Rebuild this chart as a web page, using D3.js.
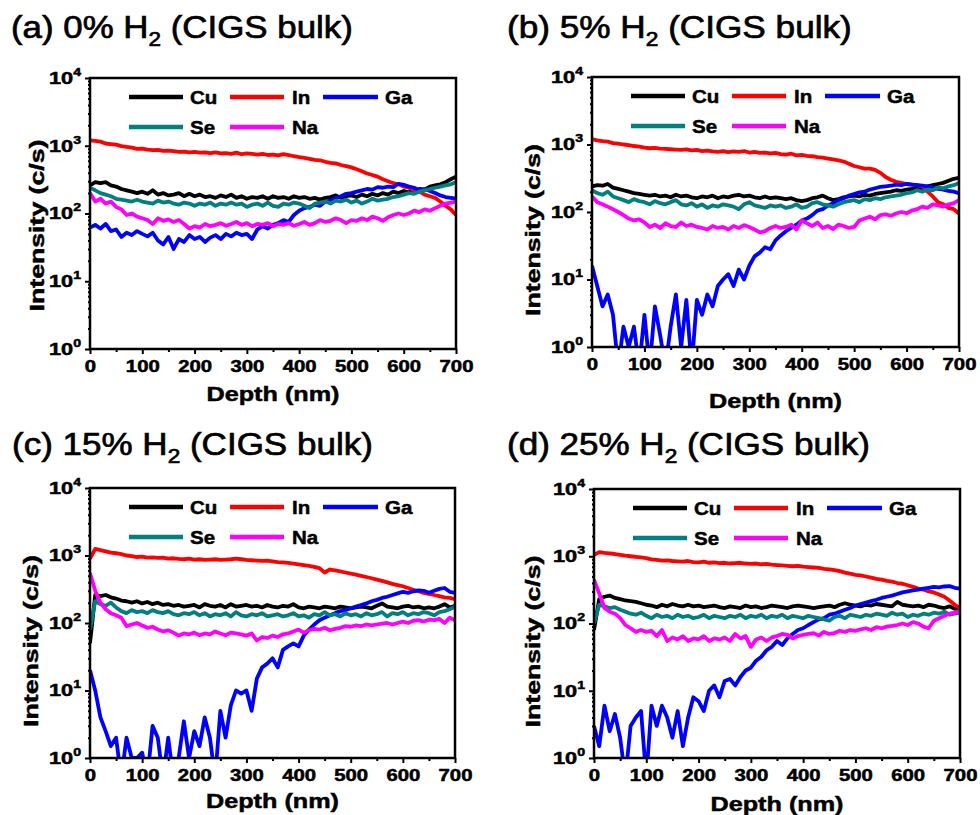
<!DOCTYPE html>
<html>
<head>
<meta charset="UTF-8">
<title>CIGS bulk depth profiles</title>
<style>
  body { margin: 0; background: #fff; }
  svg { display: block; }
  text { font-family: "Liberation Sans", Arial, sans-serif; fill: #000; }
  .heavy { stroke: #000; stroke-width: 0.5px; }
  .title { stroke: #000; stroke-width: 0.7px; }
</style>
</head>
<body>
<svg width="980" height="815"></svg>
<script src="https://d3js.org/d3.v7.min.js"></script>
<script>
// depth grid (nm)
const depth = [0,10,20,30,40,50,60,70,80,90,
  100,110,120,130,140,150,160,170,180,190,
  200,210,220,230,240,250,260,270,280,290,
  300,310,320,330,340,350,360,370,380,390,
  400,410,420,430,440,450,460,470,480,490,
  500,510,520,530,540,550,560,570,580,590,
  600,610,620,630,640,650,660,670,680,690,
  700];

// (a) 0% H2
const cuA = [260,290,280,290,260,250,230,220,210,200,
  210,195,220,190,200,185,190,200,180,195,
  180,190,175,180,170,185,175,190,170,180,
  165,175,170,180,165,180,170,175,165,180,
  170,175,165,170,160,170,175,185,170,180,
  185,175,190,180,195,185,200,190,210,200,
  215,205,220,230,225,250,260,270,290,320,
  350];
const inA = [1200,1180,1150,1080,1060,1040,990,960,940,900,
  910,880,860,870,840,850,830,810,820,800,
  810,790,800,780,800,770,780,760,790,750,
  770,760,740,760,730,740,720,750,730,700,
  680,660,640,620,610,580,560,550,520,500,
  480,450,420,390,370,350,320,300,280,270,
  250,240,220,210,190,180,170,150,130,115,
  95];
const gaA = [62,68,60,70,55,58,45,52,48,55,
  50,46,52,40,35,45,30,42,38,48,
  42,45,38,44,48,42,50,46,52,48,
  50,42,58,65,60,68,72,80,75,95,
  110,120,125,135,130,150,155,170,180,195,
  200,210,220,230,225,245,240,250,245,275,
  265,250,240,220,230,215,200,185,175,170,
  165];
const seA = [240,220,200,190,180,165,160,155,150,160,
  150,145,140,155,145,150,140,135,145,140,
  130,140,135,145,130,140,135,145,135,140,
  125,135,140,130,145,130,125,140,135,145,
  140,130,120,140,145,150,140,155,150,160,
  145,155,140,150,165,155,160,165,175,180,
  190,200,195,210,220,230,240,250,260,270,
  290];
const naA = [200,150,165,140,150,125,115,95,100,90,
  85,80,70,85,78,82,75,80,70,60,
  65,62,70,65,68,72,66,70,75,68,
  72,65,70,68,72,65,70,68,72,66,
  70,75,68,72,80,75,78,85,80,72,
  80,78,85,80,90,85,78,88,95,100,
  95,100,110,105,115,110,120,130,140,145,
  150];

// (b) 5% H2
const cuB = [240,250,245,260,230,220,210,200,190,185,
  180,175,180,170,175,165,180,170,175,165,
  160,170,165,175,160,170,165,175,180,170,
  175,165,160,170,160,165,160,155,160,150,
  145,150,160,165,175,160,150,155,165,170,
  175,170,180,175,185,190,195,200,210,205,
  215,220,230,225,240,250,260,270,290,310,
  320];
const inB = [1200,1150,1120,1100,1050,1030,1000,980,950,930,
  900,880,890,870,860,850,840,830,850,820,
  830,800,810,790,780,800,770,790,780,800,
  760,780,750,760,740,750,720,710,730,690,
  700,680,670,650,640,620,600,580,560,520,
  480,460,440,440,420,380,330,300,280,270,
  260,255,250,240,200,170,140,130,115,110,
  95];
const gaB = [16,8,4,6,3,0.5,2,1,2,0.5,
  3,0.5,4,1.5,0.5,2,6,1,5,0.5,
  5,3,6,4,8,10,12,8,14,10,
  16,22,25,30,28,38,45,52,58,65,
  75,80,90,105,110,125,135,150,160,175,
  185,195,200,215,225,235,240,245,255,250,
  260,255,250,245,240,230,220,215,205,200,
  190];
const seB = [210,190,180,200,170,160,150,140,155,145,
  140,130,145,135,130,140,150,130,125,135,
  120,130,115,125,120,130,125,120,110,130,
  140,125,120,115,125,120,125,115,120,130,
  115,120,135,140,130,125,120,130,140,145,
  150,140,155,150,160,155,165,170,175,180,
  190,195,210,200,215,210,230,225,240,250,
  270];
const naB = [170,140,130,120,110,100,90,80,75,78,
  70,60,65,58,68,62,60,70,62,65,
  60,58,55,62,58,60,55,62,58,64,
  60,55,50,52,58,62,58,60,65,55,
  75,68,62,70,58,62,56,65,62,58,
  60,75,80,85,78,90,92,88,95,100,
  96,105,110,120,115,130,125,120,130,135,
  150];

// (c) 15% H2
const cuC = [50,260,250,260,240,230,215,210,200,210,
  195,205,190,200,185,190,180,185,175,180,
  185,170,190,180,175,185,170,190,175,180,
  185,175,180,170,185,175,170,180,175,190,
  170,165,175,170,165,175,170,165,175,170,
  165,170,175,170,165,180,195,175,170,165,
  175,180,170,175,165,170,165,175,190,170,
  180];
const inC = [900,1250,1200,1150,1100,1080,1050,1000,980,950,
  960,930,940,920,930,900,910,890,880,900,
  870,880,860,870,880,860,870,880,900,880,
  860,850,840,830,840,820,800,790,780,760,
  740,720,700,680,650,560,620,600,580,560,
  540,520,500,480,460,440,420,400,380,365,
  350,330,310,295,280,270,260,250,240,235,
  225];
const gaC = [20,10,4,2.5,1.5,2,0.5,2,1,1,
  1.2,0.5,3,2,0.5,2,0.5,1,3.5,1,
  2.5,1.5,4,2,0.5,5,2,6,10,9,
  10,5,15,22,25,30,22,40,45,50,
  45,65,80,95,110,120,130,140,150,155,
  165,175,185,195,210,220,235,245,260,275,
  290,280,295,305,300,280,300,320,330,290,
  280];
const seC = [80,210,190,180,200,170,150,140,155,145,
  150,140,155,145,140,150,135,130,140,135,
  145,130,140,125,135,130,140,125,145,130,
  125,135,130,140,125,130,135,125,130,140,
  125,130,120,135,130,145,130,135,125,140,
  130,135,125,140,130,135,145,125,140,135,
  145,130,140,135,145,140,130,145,150,160,
  175];
const naC = [550,300,200,160,140,130,120,90,95,100,
  92,85,88,80,75,78,72,65,70,68,
  72,66,70,68,75,70,66,72,70,68,
  65,70,55,62,60,65,62,68,70,75,
  80,72,78,82,80,85,78,82,85,90,
  88,92,90,95,92,95,98,100,95,100,
  105,100,108,110,105,112,110,115,100,120,
  110];

// (d) 25% H2
const cuD = [80,230,250,260,240,230,220,215,210,200,
  190,185,175,190,180,195,185,180,190,180,
  185,175,180,185,175,170,180,175,170,185,
  175,180,170,175,185,180,175,170,180,185,
  180,175,170,175,180,185,175,190,200,190,
  185,180,190,185,195,190,185,180,210,190,
  185,180,185,175,190,185,175,170,180,165,
  160];
const inD = [1050,1150,1120,1100,1080,1050,1020,1000,980,960,
  940,900,880,860,870,850,840,830,850,820,
  810,830,800,810,790,800,780,790,800,780,
  770,780,760,770,750,740,730,720,710,720,
  700,690,680,670,650,640,620,600,570,550,
  530,520,500,480,460,450,430,420,400,390,
  370,350,330,320,300,290,270,250,220,190,
  170];
const gaD = [3,1.5,6,2.5,4.5,2,0.5,3,4,5,
  0.5,6,3,6,4,2,5,1.5,4,8,
  7,5,10,12,8,14,15,12,16,20,
  22,28,32,40,45,55,48,60,70,80,
  85,95,105,115,120,135,140,150,160,170,
  185,195,205,215,225,240,250,260,275,290,
  300,310,320,330,340,350,345,355,360,340,
  330];
const seD = [100,190,180,170,175,160,150,140,135,145,
  130,120,135,125,130,120,135,125,130,120,
  125,135,120,130,125,120,130,125,135,120,
  130,125,135,120,130,125,135,120,130,125,
  120,130,125,120,115,110,125,130,120,135,
  130,125,135,130,140,135,130,145,135,140,
  125,135,130,140,135,145,140,150,135,140,
  145];
const naD = [450,280,170,150,140,120,95,85,75,80,
  75,78,65,80,55,62,58,65,55,60,
  58,65,55,60,58,62,55,70,60,65,
  45,58,62,55,62,65,70,68,60,65,
  68,70,72,66,75,70,72,78,75,80,
  78,82,85,80,88,85,90,92,95,100,
  95,105,100,90,85,110,120,130,140,145,
  155];

const elements = ["Cu", "In", "Ga", "Se", "Na"];
const colours = {Cu: "#000000", In: "#ff0000", Ga: "#0000ff", Se: "#008080", Na: "#ff00ff"};
const xTicks = [0, 100, 200, 300, 400, 500, 600, 700];
const xMinor = [50, 150, 250, 350, 450, 550, 650];
const yTicks = [1, 10, 100, 1000, 10000];

const panels = [
  {label: "(a) 0% H", left: 90, right: 456, top: 78, bottom: 349,
   tx: 11, ty: 38, tw: 342, xly: 401, ylx: -46, yldy: 12,
   series: {Cu: cuA, In: inA, Ga: gaA, Se: seA, Na: naA}},
  {label: "(b) 5% H", left: 592, right: 959, top: 77, bottom: 347,
   tx: 507, ty: 38, tw: 345, xly: 408, ylx: -52, yldy: 18,
   series: {Cu: cuB, In: inB, Ga: gaB, Se: seB, Na: naB}},
  {label: "(c) 15% H", left: 90, right: 455, top: 488, bottom: 758,
   tx: 12, ty: 455, tw: 361, xly: 808, ylx: -52, yldy: 18,
   series: {Cu: cuC, In: inC, Ga: gaC, Se: seC, Na: naC}},
  {label: "(d) 25% H", left: 594, right: 960, top: 489, bottom: 758,
   tx: 507, ty: 455, tw: 363, xly: 811, ylx: -54, yldy: 18,
   series: {Cu: cuD, In: inD, Ga: gaD, Se: seD, Na: naD}}
];

// legend slots, relative to the plot's top-left corner
const legendPos = {
  Cu: {x0: 39, x1: 93, tx: 100, y: 19},
  In: {x0: 140, x1: 194, tx: 202, y: 19},
  Ga: {x0: 233, x1: 288, tx: 295, y: 19},
  Se: {x0: 39, x1: 93, tx: 100, y: 49},
  Na: {x0: 140, x1: 194, tx: 202, y: 49}
};

let svg = d3.select("svg");
let defs = svg.append("defs");

// stretch a text horizontally around x = ax
function stretch(sel, sx, ax) {
  sel.attr("transform", `translate(${ax},0) scale(${sx},1) translate(${-ax},0)`);
}
function fitWidth(sel, target, ax) {
  let w = sel.node().getBBox().width;
  stretch(sel, target / w, ax);
}

panels.forEach((p, pi) => {
  let x = d3.scaleLinear().domain([0, 700]).range([p.left, p.right]);
  let y = d3.scaleLog().domain([1, 10000]).range([p.bottom, p.top]);
  let g = svg.append("g");

  defs.append("clipPath").attr("id", "clip" + pi)
    .append("rect")
    .attr("x", p.left).attr("y", p.top)
    .attr("width", p.right - p.left).attr("height", p.bottom - p.top);

  // data lines
  let line = d3.line()
    .x((d, i) => x(depth[i]))
    .y(d => y(d));
  let plot = g.append("g").attr("clip-path", `url(#clip${pi})`);
  elements.forEach(el => {
    plot.append("path")
      .datum(p.series[el])
      .attr("d", line)
      .attr("fill", "none")
      .attr("stroke", colours[el])
      .attr("stroke-width", 3.8)
      .attr("stroke-linejoin", "round");
  });

  // x axis
  let xa = g.append("g").attr("transform", `translate(0,${p.bottom})`)
    .call(d3.axisBottom(x).tickValues(xTicks).tickSizeInner(5).tickSizeOuter(0)
      .tickPadding(7).tickFormat(d3.format("d")));
  xa.selectAll("text")
    .attr("class", "heavy")
    .style("font-size", "16px").style("font-weight", "bold")
    .attr("transform", "scale(1.27,1)");
  g.append("g").attr("transform", `translate(0,${p.bottom})`)
    .call(d3.axisBottom(x).tickValues(xMinor).tickSize(3).tickFormat(""));

  // y axis
  g.append("g").attr("transform", `translate(${p.left},0)`)
    .call(d3.axisLeft(y).tickValues(yTicks).tickSize(5).tickFormat(""));
  let minor = [];
  [1, 10, 100, 1000].forEach(b => d3.range(2, 10).forEach(m => minor.push(b * m)));
  g.append("g").attr("transform", `translate(${p.left},0)`)
    .call(d3.axisLeft(y).tickValues(minor).tickSize(2).tickFormat(""));
  g.selectAll(".domain").remove();
  g.selectAll(".tick line").attr("stroke", "#000").attr("stroke-width", 2);

  yTicks.forEach(v => {
    let t = g.append("text")
      .attr("class", "heavy")
      .attr("x", p.left - 9).attr("y", y(v) + 6)
      .attr("text-anchor", "end")
      .style("font-size", "17px").style("font-weight", "bold");
    t.append("tspan").text("10");
    t.append("tspan").attr("dy", -8).style("font-size", "11px").text(Math.log10(v));
    stretch(t, 1.28, p.left - 9);
  });

  // frame
  g.append("rect")
    .attr("x", p.left).attr("y", p.top)
    .attr("width", p.right - p.left).attr("height", p.bottom - p.top)
    .attr("fill", "none").attr("stroke", "#000").attr("stroke-width", 2.5);

  // axis titles
  let cx = (p.left + p.right) / 2;
  let xl = g.append("text")
    .attr("class", "heavy")
    .attr("x", cx).attr("y", p.xly)
    .attr("text-anchor", "middle")
    .style("font-size", "21px").style("font-weight", "bold")
    .text("Depth (nm)");
  fitWidth(xl, 133, cx);

  let yg = g.append("g")
    .attr("transform", `translate(${p.left + p.ylx},${(p.top + p.bottom) / 2 + p.yldy}) rotate(-90)`);
  let yl = yg.append("text")
    .attr("class", "heavy")
    .attr("x", 0).attr("y", 0)
    .attr("text-anchor", "middle")
    .style("font-size", "21px").style("font-weight", "bold")
    .text("Intensity (c/s)");
  fitWidth(yl, 172, 0);

  // panel title
  let tt = g.append("text")
    .attr("class", "title")
    .attr("x", p.tx).attr("y", p.ty)
    .style("font-size", "31px");
  tt.append("tspan").text(p.label);
  tt.append("tspan").attr("dy", 8).style("font-size", "20px").text("2");
  tt.append("tspan").attr("dy", -8).text(" (CIGS bulk)");
  fitWidth(tt, p.tw, p.tx);

  // legend
  elements.forEach(el => {
    let lp = legendPos[el];
    g.append("line")
      .attr("x1", p.left + lp.x0).attr("x2", p.left + lp.x1)
      .attr("y1", p.top + lp.y).attr("y2", p.top + lp.y)
      .attr("stroke", colours[el]).attr("stroke-width", 4.5);
    let lt = g.append("text")
      .attr("class", "heavy")
      .attr("x", p.left + lp.tx).attr("y", p.top + lp.y + 7)
      .style("font-size", "19px").style("font-weight", "bold")
      .text(el);
    stretch(lt, 1.08, p.left + lp.tx);
  });
});
</script>
</body>
</html>
